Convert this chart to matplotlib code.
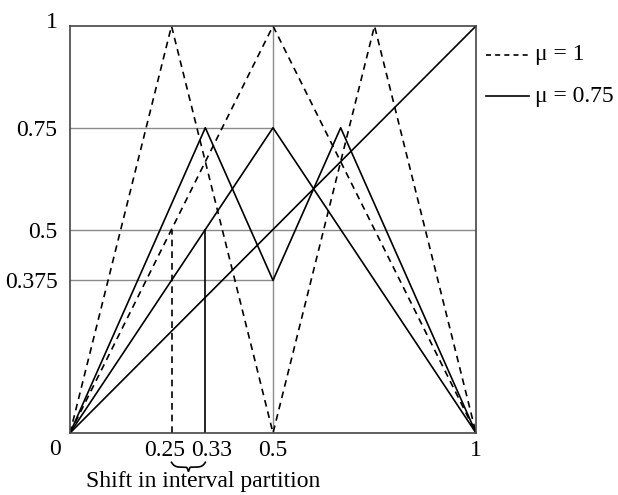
import numpy as np
import matplotlib.pyplot as plt
from matplotlib.transforms import ScaledTranslation

plt.rcParams['font.family'] = ['Liberation Serif', 'DejaVu Serif']

# tent map second iterate, mu = 1 and mu = 0.75
x_f1 = [0, 0.5, 1]
y_f1 = [0, 1, 0]
x_f2_mu1 = [0, 0.25, 0.5, 0.75, 1]
y_f2_mu1 = [0, 1, 0, 1, 0]
x_f1_mu75 = [0, 0.5, 1]
y_f1_mu75 = [0, 0.75, 0]
x_f2_mu75 = [0, 1/3, 0.5, 2/3, 1]
y_f2_mu75 = [0, 0.75, 0.375, 0.75, 0]

xticks = [0.25, 1/3, 0.5, 1]
xtick_labels = ['0.25', '0.33', '0.5', '1']
yticks = [0.375, 0.5, 0.75, 1]
ytick_labels = ['0.375', '0.5', '0.75', '1']

fs = 17
fig = plt.figure(figsize=(6.18, 4.95), dpi=100)
ax = fig.add_axes([70/618, 62/495, 406/618, 407/495])
ax.set_xlim(0, 1)
ax.set_ylim(0, 1)

grey = '#8a8a8a'
ax.plot([0, 0.5], [0.75, 0.75], color=grey, lw=1)
ax.plot([0, 1], [0.5, 0.5], color=grey, lw=1)
ax.plot([0, 0.5], [0.375, 0.375], color=grey, lw=1)
ax.plot([0.5, 0.5], [0, 1], color=grey, lw=1)

ax.plot([0.25, 0.25], [0, 0.5], color='k', lw=1.2, ls=(0, (4, 3)))
ax.plot([1/3, 1/3], [0, 0.5], color='k', lw=1.2)

ax.plot(x_f1, y_f1, color='k', lw=1.2, ls=(0, (4, 3)))
ax.plot(x_f2_mu1, y_f2_mu1, color='k', lw=1.2, ls=(0, (4, 3)))
ax.plot(x_f1_mu75, y_f1_mu75, color='k', lw=1.2)
ax.plot(x_f2_mu75, y_f2_mu75, color='k', lw=1.2)
ax.plot([0, 1], [0, 1], color='k', lw=1.2)

for s in ax.spines.values():
    s.set_color('#444444')
    s.set_linewidth(1.2)

ax.set_xticks(xticks)
ax.set_xticklabels(xtick_labels)
ax.set_yticks(yticks)
ax.set_yticklabels(ytick_labels)
ax.tick_params(length=0, labelsize=fs)
ax.tick_params(axis='x', pad=5)
ax.tick_params(axis='y', pad=9)

# nudge crowded labels apart
xl = ax.get_xticklabels()
xl[0].set_transform(xl[0].get_transform() + ScaledTranslation(-0.07, 0, fig.dpi_scale_trans))
xl[1].set_transform(xl[1].get_transform() + ScaledTranslation(0.06, 0, fig.dpi_scale_trans))
yl = ax.get_yticklabels()
yl[3].set_transform(yl[3].get_transform() + ScaledTranslation(0, 0.06, fig.dpi_scale_trans))

ax.text(-0.036, -0.04, '0', fontsize=fs, ha='center', va='center',
        transform=ax.transAxes)

# curly brace below 0.25 .. 0.33
t = np.linspace(0, 1, 200)
bx = 0.25 + t * (1/3 - 0.25)
half = np.where(t < 0.5, t / 0.5, (1 - t) / 0.5)
by = -0.072 - 0.012 * (1 - (1 - half) ** 6) - 0.01 * np.exp(-((t - 0.5) / 0.03) ** 2)
ax.plot(bx, by, color='k', lw=1.2, clip_on=False)
ax.text(0.328, -0.118, 'Shift in interval partition', fontsize=fs,
        ha='center', va='center', clip_on=False)

# legend drawn beside the box
ax.plot([1.025, 1.13], [0.929, 0.929], color='k', lw=1.2, ls=(0, (3, 2.5)),
        clip_on=False)
ax.text(1.145, 0.929, 'μ = 1', fontsize=fs, va='center', clip_on=False)
ax.plot([1.025, 1.13], [0.828, 0.828], color='k', lw=1.2, clip_on=False)
ax.text(1.145, 0.828, 'μ = 0.75', fontsize=fs, va='center', clip_on=False)

fig.savefig('out.png', dpi=100)
